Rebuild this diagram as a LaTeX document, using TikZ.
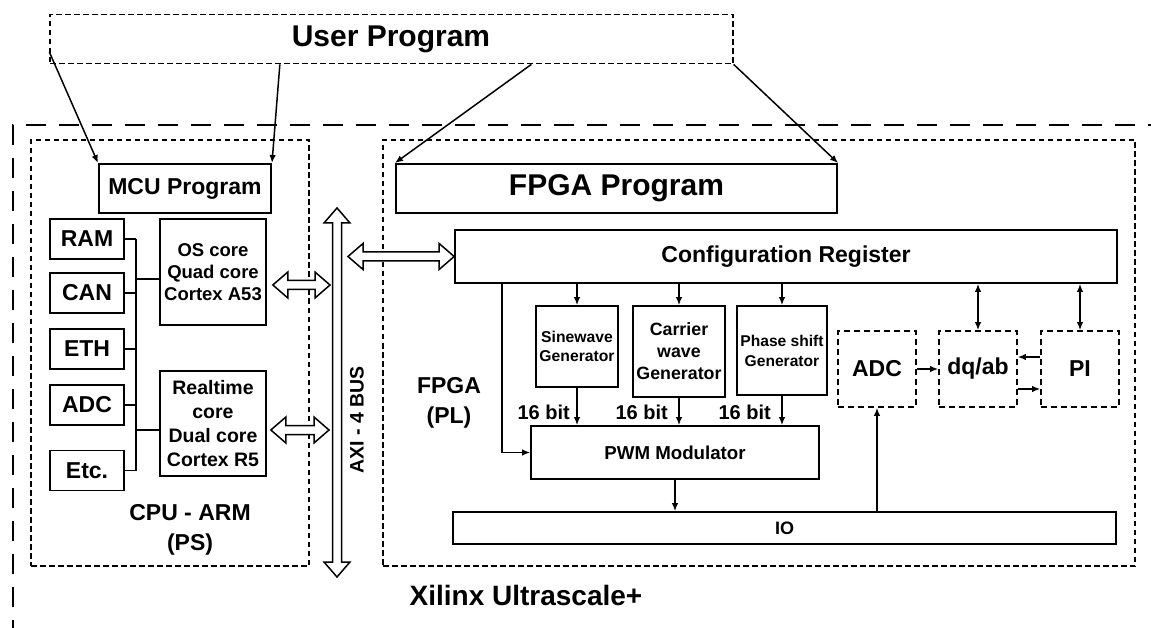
\documentclass[tikz,border=0pt]{standalone}
\usepackage{fontspec}
\setmainfont{Liberation Sans}
\usetikzlibrary{arrows.meta, calc}

\begin{document}
\begin{tikzpicture}[
        x=1pt, y=-1pt,
        block/.style={rectangle, draw=black, line width=1.7pt, inner sep=0pt, align=center},
        region/.style={rectangle, draw=black, line width=1.3pt, dash pattern=on 5.5pt off 3.5pt, inner sep=0pt},
        outer/.style={draw=black, line width=1.6pt, dash pattern=on 20pt off 13pt},
        ctrl/.style={rectangle, draw=black, line width=1.6pt, dash pattern=on 6pt off 4pt, minimum width=78pt, minimum height=76pt, inner sep=0pt, font=\fontsize{23}{27}\selectfont\bfseries},
        periph/.style={block, minimum width=74pt, minimum height=40pt, font=\fontsize{23}{27}\selectfont\bfseries},
        txt/.style={align=center, inner sep=0pt},
        link/.style={line width=1.5pt},
        flow/.style={-{Latex[length=8pt, width=6.5pt]}, line width=1.5pt},
        both/.style={{Latex[length=8pt, width=6.5pt]}-{Latex[length=8pt, width=6.5pt]}, line width=1.5pt},
        hollow/.style={draw=black, fill=white, line width=1.5pt, line join=miter, to path={
            -- ($(\tikztostart)!15pt!(\tikztotarget)!13pt!90:(\tikztotarget)$)
            -- ($(\tikztostart)!15pt!(\tikztotarget)!4.5pt!90:(\tikztotarget)$)
            -- ($(\tikztotarget)!15pt!(\tikztostart)!4.5pt!-90:(\tikztostart)$)
            -- ($(\tikztotarget)!15pt!(\tikztostart)!13pt!-90:(\tikztostart)$)
            -- (\tikztotarget)
            -- ($(\tikztotarget)!15pt!(\tikztostart)!13pt!90:(\tikztostart)$)
            -- ($(\tikztotarget)!15pt!(\tikztostart)!4.5pt!90:(\tikztostart)$)
            -- ($(\tikztostart)!15pt!(\tikztotarget)!4.5pt!-90:(\tikztotarget)$)
            -- ($(\tikztostart)!15pt!(\tikztotarget)!13pt!-90:(\tikztotarget)$)
            -- cycle}},
    ]
        \useasboundingbox (0,0) rectangle (1151,628);

        \draw[outer] (13,640) -- (13,125) -- (1160,125);

        \node[region, minimum width=683pt, minimum height=49.5pt] (userprog) at (391.5,39) {};
        \node[txt, font=\fontsize{30}{34}\selectfont\bfseries] (usertext) at (391,39) {User Program};

        \node[region, minimum width=278pt, minimum height=426pt] (cpu) at (170,353) {};
        \node[region, minimum width=752pt, minimum height=426pt] (fpga) at (759,353) {};

        \node[block, line width=2pt, minimum width=172pt, minimum height=49pt, font=\fontsize{23}{27}\selectfont\bfseries] (mcu) at (185,188.5) {MCU Program};
        \node[block, line width=2pt, minimum width=441pt, minimum height=49pt, font=\fontsize{30}{34}\selectfont\bfseries] (fpgaprog) at (616.5,188.5) {FPGA Program};

        \draw[flow] ([yshift=-13pt]userprog.west) -- (mcu.north west);
        \draw[flow] ([xshift=230.5pt]userprog.south west) -- (mcu.north east);
        \draw[flow] ([xshift=482pt]userprog.south west) -- (fpgaprog.north west);
        \draw[flow] (userprog.south east) -- (fpgaprog.north east);

        \node[periph] (ram) at (87,239) {RAM};
        \node[periph] (can) at (87,293) {CAN};
        \node[periph] (eth) at (87,349) {ETH};
        \node[periph] (adc) at (87,405) {ADC};
        \node[periph] (etc) at (87,470.5) {Etc.};

        \node[block, minimum width=106pt, minimum height=106pt, font=\fontsize{18.5}{22}\selectfont\bfseries] (oscore) at (213,272) {OS core\\Quad core\\Cortex A53};
        \node[block, minimum width=106pt, minimum height=105pt, font=\fontsize{19.5}{24}\selectfont\bfseries] (rtcore) at (213,423.5) {Realtime\\core\\Dual core\\Cortex R5};

        \coordinate (bustop) at (136,239);
        \coordinate (busbot) at (136,470.5);
        \draw[link] (bustop) -- (busbot);
        \foreach \n in {ram,can,eth,adc,etc}
            \draw[link] (\n.east) -- (\n.east -| bustop);
        \draw[link] ([yshift=-7pt]oscore.west) -- +(-24,0);
        \draw[link] ([yshift=-6.5pt]rtcore.west) -- +(-24,0);

        \node[txt, font=\fontsize{23}{30}\selectfont\bfseries] (cputext) at (190,530) {CPU - ARM\\(PS)};

        \coordinate (axitop) at (337,208);
        \coordinate (axibot) at (337,577);
        \coordinate (axi_os) at (330,285);
        \coordinate (axi_rt) at (329,430);
        \coordinate (axi_cfg) at (348,256.5);
        \draw[hollow] (axitop) to (axibot);
        \node[txt, rotate=90, font=\fontsize{19.5}{23}\selectfont\bfseries] (axitext) at (357,420) {AXI - 4 BUS};

        \node[block, minimum width=662pt, minimum height=53pt, font=\fontsize{23}{27}\selectfont\bfseries] (config) at (786,256.5) {Configuration Register};

        \draw[hollow] ([shift={(6pt,-13pt)}]oscore.east) to (axi_os);
        \draw[hollow] ([shift={(4pt,-6.5pt)}]rtcore.east) to (axi_rt);
        \draw[hollow] (axi_cfg) to (config.west);

        \node[txt, font=\fontsize{23}{30}\selectfont\bfseries] (fpgatext) at (449,403) {FPGA\\(PL)};

        \node[block, minimum width=82pt, minimum height=81pt, font=\fontsize{15.7}{19}\selectfont\bfseries] (sine) at (577,346.5) {Sinewave\\Generator};
        \node[block, minimum width=92pt, minimum height=91pt, font=\fontsize{17.8}{22}\selectfont\bfseries] (carrier) at (679,351.5) {Carrier\\wave\\Generator};
        \node[block, minimum width=90pt, minimum height=89pt, font=\fontsize{15.6}{20}\selectfont\bfseries] (phase) at (782,350.5) {Phase shift\\Generator};

        \node[block, minimum width=288pt, minimum height=53pt, font=\fontsize{18.7}{22}\selectfont\bfseries] (pwm) at (675,452.5) {PWM Modulator};
        \node[block, minimum width=663pt, minimum height=32pt, font=\fontsize{18}{22}\selectfont\bfseries] (io) at (784.5,528) {IO};

        \draw[flow] (config.south -| sine.north) -- (sine.north);
        \draw[flow] (config.south -| carrier.north) -- (carrier.north);
        \draw[flow] (config.south -| phase.north) -- (phase.north);

        \draw[flow] (sine.south) -- (sine.south |- pwm.north);
        \draw[flow] (carrier.south) -- (carrier.south |- pwm.north);
        \draw[flow] (phase.south) -- (phase.south |- pwm.north);

        \node[txt, anchor=east, font=\fontsize{20}{24}\selectfont\bfseries] (bits_sine) at (570,412) {16 bit};
        \node[txt, anchor=east, font=\fontsize{20}{24}\selectfont\bfseries] (bits_carrier) at (668,412) {16 bit};
        \node[txt, anchor=east, font=\fontsize{20}{24}\selectfont\bfseries] (bits_phase) at (771,412) {16 bit};

        \draw[flow] ([xshift=48pt]config.south west) |- (pwm.west);
        \draw[flow] (pwm.south) -- (pwm.south |- io.north);

        \node[ctrl] (adcpl) at (877,369) {ADC};
        \node[ctrl] (dqab) at (978,369) {dq/ab};
        \node[ctrl] (pi) at (1080,369) {PI};

        \draw[flow] (adcpl.south |- io.north) -- (adcpl.south);
        \draw[flow] (adcpl.east) -- (dqab.west);
        \draw[flow] ([yshift=12pt]pi.west) -- ([yshift=12pt]dqab.east);
        \draw[flow] ([yshift=-20pt]dqab.east) -- ([yshift=-20pt]pi.west);
        \draw[both] (dqab.north |- config.south) -- (dqab.north);
        \draw[both] (pi.north |- config.south) -- (pi.north);

        \node[txt, font=\fontsize{28}{32}\selectfont\bfseries] (xilinx) at (526,595) {Xilinx Ultrascale+};
    \end{tikzpicture}
\end{document}
